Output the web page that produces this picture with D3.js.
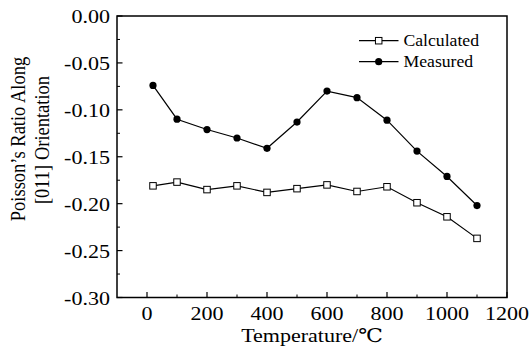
<!DOCTYPE html>
<html><head><meta charset="utf-8">
<script src="https://cdn.jsdelivr.net/npm/d3@7"></script>
<style>
body{margin:0;background:#fff;}
</style></head>
<body><svg id="c" width="529" height="354"></svg>
<script>
const temps = [20,100,200,300,400,500,600,700,800,900,1000,1100];
const calculated = [-0.181,-0.177,-0.185,-0.181,-0.188,-0.184,-0.180,-0.187,-0.182,-0.199,-0.214,-0.237];
const measured = [-0.074,-0.110,-0.121,-0.130,-0.141,-0.113,-0.080,-0.087,-0.111,-0.144,-0.171,-0.202];
const xTicks = [0,200,400,600,800,1000,1200];
const yTicks = [0,-0.05,-0.10,-0.15,-0.20,-0.25,-0.30];
const seriesNames = ["Calculated","Measured"];
const xTitle = "Temperature/\u2103";
const yTitle = ["Poisson\u2019s Ratio Along","[011] Orientation"];

const FONT = "'Liberation Serif', 'Times New Roman', 'DejaVu Serif', serif";
const svg = d3.select("#c");
const L=117, R=507, T=16, B=297.5;
const x = d3.scaleLinear().domain([-100,1200]).range([L,R]);
const y = d3.scaleLinear().domain([-0.30,0]).range([B,T]);
const SX = 1.16;
const FS = "19px";

// minor and major ticks (inward)
const g = svg.append("g");
const xMinor = d3.range(100,1200,200);
g.selectAll(".xmn").data(xMinor).join("line")
  .attr("x1",d=>x(d)).attr("x2",d=>x(d)).attr("y1",B).attr("y2",B-3)
  .attr("stroke","#000").attr("stroke-width",1);
g.selectAll(".xmj").data(xTicks).join("line")
  .attr("x1",d=>x(d)).attr("x2",d=>x(d)).attr("y1",B).attr("y2",B-5.5)
  .attr("stroke","#000").attr("stroke-width",1.2);
const yMinor = d3.range(-0.275,0,0.05);
g.selectAll(".ymn").data(yMinor).join("line")
  .attr("y1",d=>y(d)).attr("y2",d=>y(d)).attr("x1",L).attr("x2",L+3)
  .attr("stroke","#000").attr("stroke-width",1);
g.selectAll(".ymj").data(yTicks).join("line")
  .attr("y1",d=>y(d)).attr("y2",d=>y(d)).attr("x1",L).attr("x2",L+5.5)
  .attr("stroke","#000").attr("stroke-width",1.2);

// frame
svg.append("rect").attr("x",L).attr("y",T).attr("width",R-L).attr("height",B-T)
  .attr("fill","none").attr("stroke","#000").attr("stroke-width",1.5);

// tick labels
svg.selectAll(".xl").data(xTicks).join("text")
  .attr("transform",d=>`translate(${x(d)},${B+22.5}) scale(${SX},1)`)
  .attr("text-anchor","middle").attr("font-family",FONT).attr("font-size",FS)
  .text(d=>d3.format("d")(d));
svg.selectAll(".yl").data(yTicks).join("text")
  .attr("transform",d=>`translate(${L-7},${y(d)+7}) scale(${SX},1)`)
  .attr("text-anchor","end").attr("font-family",FONT).attr("font-size",FS)
  .text(d=>d3.format(".2f")(d).replace("\u2212","-"));

// titles
svg.append("text").attr("transform",`translate(${(L+R)/2},342) scale(${SX},1)`)
  .attr("text-anchor","middle").attr("font-family",FONT).attr("font-size",FS).text(xTitle);
svg.append("text").attr("transform",`translate(25,139) rotate(-90) scale(1,1.15)`)
  .attr("text-anchor","middle").attr("font-family",FONT).attr("font-size","18.5px").text(yTitle[0]);
svg.append("text").attr("transform",`translate(49,140) rotate(-90) scale(1,1.15)`)
  .attr("text-anchor","middle").attr("font-family",FONT).attr("font-size","18.5px").text(yTitle[1]);

// lines
const line = d3.line().x((d,i)=>x(temps[i])).y(d=>y(d));
svg.append("path").datum(calculated).attr("d",line).attr("fill","none").attr("stroke","#000").attr("stroke-width",1.2);
svg.append("path").datum(measured).attr("d",line).attr("fill","none").attr("stroke","#000").attr("stroke-width",1.2);
const s = 6.5;
svg.selectAll(".sq").data(calculated).join("rect")
  .attr("x",(d,i)=>x(temps[i])-s/2).attr("y",d=>y(d)-s/2).attr("width",s).attr("height",s)
  .attr("fill","#fff").attr("stroke","#000").attr("stroke-width",1);
svg.selectAll(".ci").data(measured).join("circle")
  .attr("cx",(d,i)=>x(temps[i])).attr("cy",d=>y(d)).attr("r",3.6).attr("fill","#000");

// legend
const lg = svg.append("g");
const rows = [40.7, 61.7];
rows.forEach((ry,k)=>{
  lg.append("line").attr("x1",359).attr("x2",398.5).attr("y1",ry).attr("y2",ry).attr("stroke","#000").attr("stroke-width",1.2);
  if(k===0){
    lg.append("rect").attr("x",378.7-s/2).attr("y",ry-s/2).attr("width",s).attr("height",s).attr("fill","#fff").attr("stroke","#000").attr("stroke-width",1);
  } else {
    lg.append("circle").attr("cx",378.7).attr("cy",ry).attr("r",3.6).attr("fill","#000");
  }
  lg.append("text").attr("transform",`translate(403.5,${ry+5.5}) scale(1.04,1)`)
    .attr("font-family",FONT).attr("font-size","17px").text(seriesNames[k]);
});
</script></body></html>
